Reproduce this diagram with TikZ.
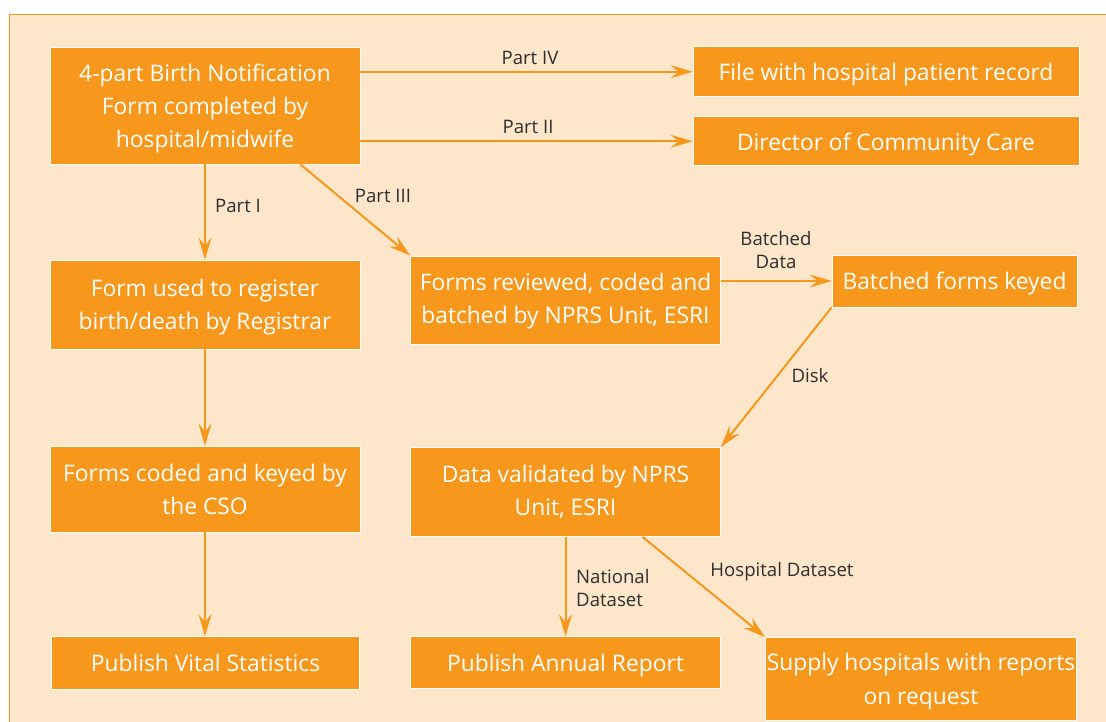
\documentclass[tikz,border=0pt]{standalone}
\usepackage{fontspec}
\setmainfont{Open Sans}
\usetikzlibrary{arrows.meta}
\definecolor{boxorange}{HTML}{F7981D}
\definecolor{peach}{HTML}{FEE6CB}
\definecolor{labelgray}{HTML}{2E2E2E}
\begin{document}
\begin{tikzpicture}[x=1pt,y=-1pt,
  box/.style={draw=white, line width=0.8pt, fill=boxorange, text=white, align=center,
    inner sep=0pt, text depth=0pt, font=\fontsize{22.8}{33}\selectfont},
  lbl/.style={text=labelgray, align=center, inner sep=0pt, font=\fontsize{18.6}{22.5}\selectfont},
  flow/.style={draw=boxorange, line width=2pt, -{Stealth[length=22pt,width=13pt,inset=8pt]}}]
\useasboundingbox (0,0) rectangle (1106,722);
\fill[peach] (9.5,14.5) rectangle (1106,722);
\draw[boxorange, line width=1.5pt] (9.5,722) -- (9.5,14.5) -- (1106,14.5);
% boxes
\node[box, minimum width=310pt, minimum height=117pt] (birth) at (205,105.5) {4-part Birth Notification\\Form completed by\\hospital/midwife};
\node[box, minimum width=386pt, minimum height=50pt] (file) at (886,71.7) {File with hospital patient record};
\node[box, minimum width=386pt, minimum height=49pt] (director) at (886,141.3) {Director of Community Care};
\node[box, minimum width=310pt, minimum height=89pt] (register) at (205,304.5) {Form used to register\\birth/death by Registrar};
\node[box, minimum width=310pt, minimum height=88pt, text depth=3pt] (reviewed) at (565.5,300) {Forms reviewed, coded and\\batched by NPRS Unit, ESRI};
\node[box, minimum width=245pt, minimum height=52pt] (keyed) at (954.5,281) {Batched forms keyed};
\node[box, minimum width=310pt, minimum height=86pt] (coded) at (205,489) {Forms coded and keyed by\\the CSO};
\node[box, minimum width=310pt, minimum height=89pt, text depth=4pt] (validated) at (565.5,492) {Data validated by NPRS\\Unit, ESRI};
\node[box, minimum width=308pt, minimum height=53pt] (vital) at (205.5,663) {Publish Vital Statistics};
\node[box, minimum width=310pt, minimum height=52pt] (annual) at (565.5,662.7) {Publish Annual Report};
\node[box, minimum width=311pt, minimum height=83pt, font=\fontsize{22.8}{34.5}\selectfont] (supply) at (921,679) {Supply hospitals with reports\\on request};
% arrows
\draw[flow] (birth.east |- file.west) -- (file.west);
\draw[flow] (birth.east |- director.west) -- (director.west);
\draw[flow] (birth.south) -- (register.north);
\draw[flow] ([xshift=-60pt]birth.south east) -- (reviewed.north west);
\draw[flow] (register.south) -- (coded.north);
\draw[flow] (coded.south) -- (coded.south |- vital.north);
\draw[flow] (reviewed.east |- keyed.west) -- (keyed.west);
\draw[flow] (keyed.south west) -- (validated.north east);
\draw[flow] (validated.south) -- (annual.north);
\draw[flow] ([xshift=77pt]validated.south) -- (supply.north west);
% labels
\node[lbl] (partiv) at (530,58) {Part IV};
\node[lbl] (partii) at (528,127) {Part II};
\node[lbl] (parti) at (238,206) {Part I};
\node[lbl] (partiii) at (383,196) {Part III};
\node[lbl] (batched) at (776,250) {Batched\\Data};
\node[lbl] (disk) at (810,376) {Disk};
\node[lbl, anchor=west, align=left] (national) at (576,588) {National\\Dataset};
\node[lbl] (hospital) at (782,572) {Hospital Dataset};
\end{tikzpicture}
\end{document}
